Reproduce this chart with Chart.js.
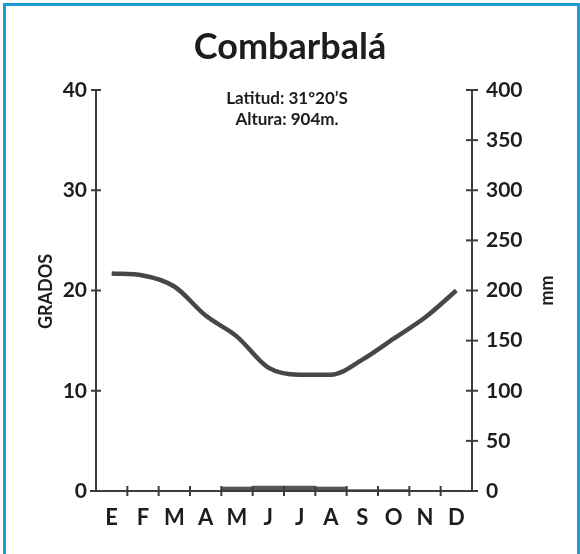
<!DOCTYPE html>
<html>
<head>
<meta charset="utf-8">
<script src="https://cdn.jsdelivr.net/npm/chart.js@4/dist/chart.umd.min.js"></script>
<style>
  html, body { margin: 0; padding: 0; background: #ffffff; }
  #wrap { position: relative; width: 580px; height: 554px; overflow: hidden; }
  #frame { position: absolute; left: 3px; top: 3px; width: 571px; height: 600px;
           border: 3px solid #1e9ad6; pointer-events: none; }
  canvas { position: absolute; left: 0; top: 0; }
</style>
</head>
<body>
<div id="wrap">
  <canvas id="c" width="580" height="554"></canvas>
  <div id="frame"></div>
</div>
<script>
// ---- data ----
const months = ['E', 'F', 'M', 'A', 'M', 'J', 'J', 'A', 'S', 'O', 'N', 'D'];
const temperature = [21.7, 21.5, 20.4, 17.5, 15.4, 12.3, 11.6, 11.6, 13.1, 15.2, 17.3, 20.0];
const precipitation = [0, 0, 0, 0, 4, 5, 5, 4, 1.5, 1.5, 0, 0];
const tempTicks = [0, 10, 20, 30, 40];
const precipTicks = [0, 50, 100, 150, 200, 250, 300, 350, 400];
const titleText = 'Combarbalá';
const infoLines = ['Latitud: 31º20’S', 'Altura: 904m.'];
const leftAxisTitle = 'GRADOS';
const rightAxisTitle = 'mm';

const INK = '#1f1c1d';
const AXIS = '#3c3c3c';
const FONT = 'Lato, "Open Sans", sans-serif';

const decor = {
  id: 'decor',
  afterDraw(chart) {
    const ctx = chart.ctx;
    const a = chart.chartArea;
    const xs = chart.scales.x, yl = chart.scales.y, yr = chart.scales.y2;
    ctx.save();
    ctx.strokeStyle = AXIS;
    ctx.lineWidth = 2;
    // crossing ticks on left axis
    tempTicks.forEach(v => {
      const y = yl.getPixelForValue(v);
      ctx.beginPath(); ctx.moveTo(a.left - 5, y); ctx.lineTo(a.left + 5, y); ctx.stroke();
    });
    // crossing ticks on right axis
    precipTicks.forEach(v => {
      const y = yr.getPixelForValue(v);
      ctx.beginPath(); ctx.moveTo(a.right - 6, y); ctx.lineTo(a.right + 6, y); ctx.stroke();
    });
    // month boundary ticks on x axis
    for (let i = 1; i < months.length; i++) {
      const x = (xs.getPixelForValue(i - 1) + xs.getPixelForValue(i)) / 2;
      ctx.beginPath(); ctx.moveTo(x, a.bottom - 5); ctx.lineTo(x, a.bottom + 5); ctx.stroke();
    }
    // extend baseline slightly past the vertical axes
    ctx.beginPath(); ctx.moveTo(a.left - 6, a.bottom); ctx.lineTo(a.right + 5, a.bottom); ctx.stroke();

    // info text
    ctx.fillStyle = INK;
    ctx.textAlign = 'center';
    ctx.textBaseline = 'middle';
    ctx.font = 'bold 17px ' + FONT;
    const cx = (a.left + a.right) / 2 + 3;
    ctx.fillText(infoLines[0], cx, a.top + 9);
    ctx.fillText(infoLines[1], cx, a.top + 30);

    // axis titles, both reading bottom-to-top
    ctx.font = 'bold 18px ' + FONT;
    ctx.save();
    ctx.translate(46, (a.top + a.bottom) / 2 + 1);
    ctx.rotate(-Math.PI / 2);
    ctx.fillText(leftAxisTitle, 0, 0);
    ctx.restore();
    ctx.save();
    ctx.translate(547, (a.top + a.bottom) / 2);
    ctx.rotate(-Math.PI / 2);
    ctx.fillText(rightAxisTitle, 0, 0);
    ctx.restore();
    ctx.restore();
  }
};

new Chart(document.getElementById('c'), {
  data: {
    labels: months,
    datasets: [
      {
        type: 'line',
        data: temperature,
        yAxisID: 'y',
        borderColor: '#474747',
        borderWidth: 4.5,
        pointRadius: 0,
        cubicInterpolationMode: 'monotone',
        fill: false,
        order: 0
      },
      {
        type: 'bar',
        data: precipitation,
        yAxisID: 'y2',
        backgroundColor: '#555555',
        borderWidth: 0,
        barPercentage: 1,
        categoryPercentage: 1,
        order: 1
      }
    ]
  },
  options: {
    responsive: false,
    animation: false,
    devicePixelRatio: 1,
    layout: { padding: 0 },
    plugins: {
      legend: { display: false },
      tooltip: { enabled: false },
      title: {
        display: true,
        text: titleText,
        color: INK,
        font: { family: FONT, size: 36, weight: 'bold', lineHeight: 1.2 },
        padding: { top: 26, bottom: 20.8 }
      }
    },
    scales: {
      x: {
        type: 'category',
        offset: true,
        grid: { display: false, offset: true, drawTicks: false },
        border: { display: false },
        ticks: { color: INK, font: { family: FONT, size: 22, weight: 'bold' }, padding: 14, maxRotation: 0, autoSkip: false },
        afterFit(s) { s.height = 63; }
      },
      y: {
        position: 'left',
        min: 0, max: 40,
        afterBuildTicks(s) { s.ticks = tempTicks.map(v => ({ value: v })); },
        grid: { display: false, drawTicks: false },
        border: { display: true, color: AXIS, width: 2 },
        ticks: { color: INK, font: { family: FONT, size: 21, weight: 'bold' }, padding: 9 },
        afterFit(s) { s.width = 96; }
      },
      y2: {
        position: 'right',
        min: 0, max: 400,
        afterBuildTicks(s) { s.ticks = precipTicks.map(v => ({ value: v })); },
        grid: { display: false, drawTicks: false },
        border: { display: true, color: AXIS, width: 2 },
        ticks: { color: INK, font: { family: FONT, size: 21, weight: 'bold' }, padding: 14 },
        afterFit(s) { s.width = 108; }
      }
    }
  },
  plugins: [decor]
});
</script>
</body>
</html>
